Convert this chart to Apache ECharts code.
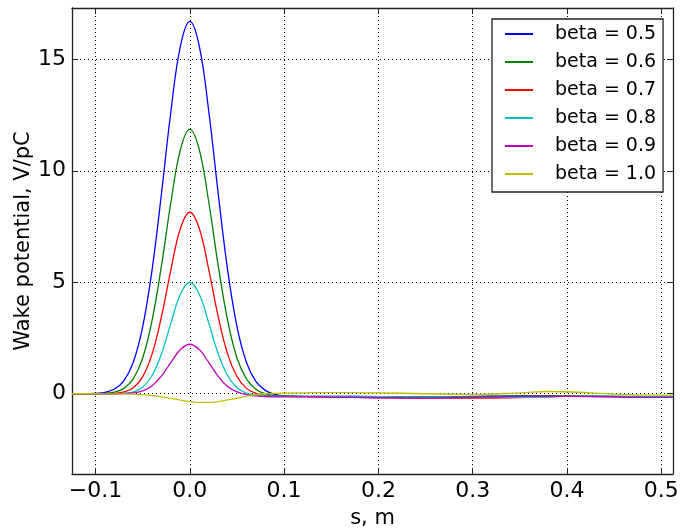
<!DOCTYPE html>
<html>
<head>
<meta charset="utf-8">
<script src="https://cdn.jsdelivr.net/npm/echarts@6/dist/echarts.min.js"></script>
<style>
  html, body { margin: 0; padding: 0; background: #fff; }
  #chart { width: 683px; height: 529px; }
</style>
</head>
<body>
<div id="chart"></div>
<script>
// s positions (m), shared by every curve
var sValues = [-0.125, -0.11, -0.1, -0.09, -0.08, -0.07, -0.06, -0.05, -0.04, -0.03, -0.02, -0.01, 0,
    0.01, 0.02, 0.03, 0.04, 0.05, 0.06, 0.07, 0.08, 0.09, 0.1, 0.12, 0.15, 0.2, 0.25, 0.3, 0.35, 0.38, 0.4, 0.45, 0.5, 0.5125];

// wake potential, V/pC
var beta05 = [0, 0, 0.02, 0.06, 0.21, 0.58, 1.41, 3.01, 5.57, 9.01, 12.69, 15.59, 16.7,
    15.59, 12.69, 9.01, 5.57, 3.01, 1.41, 0.55, 0.15, -0.03, -0.1, -0.12, -0.12, -0.13, -0.14, -0.12, -0.1, -0.1, -0.11, -0.13, -0.14, -0.14];
var beta06 = [0, 0, 0, 0.02, 0.07, 0.24, 0.67, 1.6, 3.3, 5.77, 8.61, 10.95, 11.86,
    10.95, 8.61, 5.77, 3.3, 1.6, 0.67, 0.2, 0, -0.08, -0.1, -0.12, -0.13, -0.14, -0.15, -0.13, -0.1, -0.09, -0.1, -0.12, -0.14, -0.14];
var beta07 = [0, 0, 0, 0, 0.02, 0.08, 0.27, 0.77, 1.79, 3.48, 5.58, 7.41, 8.14,
    7.41, 5.58, 3.48, 1.79, 0.77, 0.24, 0.02, -0.07, -0.1, -0.12, -0.13, -0.15, -0.18, -0.2, -0.2, -0.17, -0.14, -0.12, -0.13, -0.15, -0.15];
var beta08 = [0, 0, 0, 0, 0, 0.02, 0.08, 0.29, 0.82, 1.8, 3.18, 4.46, 5.0,
    4.46, 3.18, 1.8, 0.82, 0.27, 0.03, -0.06, -0.1, -0.11, -0.12, -0.12, -0.12, -0.13, -0.15, -0.16, -0.16, -0.14, -0.12, -0.11, -0.12, -0.12];
var beta09 = [0, 0, 0, 0, 0, 0.01, 0.04, 0.13, 0.36, 0.8, 1.41, 1.98, 2.22,
    1.98, 1.41, 0.78, 0.32, 0.08, -0.04, -0.1, -0.13, -0.14, -0.14, -0.14, -0.15, -0.18, -0.2, -0.16, -0.12, -0.11, -0.12, -0.14, -0.16, -0.16];
var beta10 = [0, 0, 0, -0.005, -0.01, -0.01, -0.02, -0.04, -0.08, -0.14, -0.21, -0.29, -0.35,
    -0.39, -0.39, -0.35, -0.28, -0.2, -0.12, -0.05, 0, 0.02, 0.03, 0.04, 0.05, 0.04, 0, -0.03, 0.04, 0.1, 0.09, -0.02, -0.06, -0.06];

var seriesNames = ['beta = 0.5', 'beta = 0.6', 'beta = 0.7', 'beta = 0.8', 'beta = 0.9', 'beta = 1.0'];
var seriesData = [beta05, beta06, beta07, beta08, beta09, beta10];
var colors = ['#0000ff', '#008000', '#ff0000', '#00bfbf', '#bf00bf', '#bfbf00'];

var font = 'DejaVu Sans';

function pairs(ys) {
    return sValues.map(function (s, i) { return [s, ys[i]]; });
}

function fmtX(v) {
    return (v < 0 ? '\u2212' : '') + Math.abs(v).toFixed(1);
}

var myChart = echarts.init(document.getElementById('chart'));

var frameLine = { show: true, onZero: false, lineStyle: { color: '#222', width: 1.3 } };
var tickIn = { show: true, inside: true, length: 6, lineStyle: { color: '#222', width: 1 } };

var option = {
    animation: false,
    backgroundColor: '#fff',
    color: colors,
    grid: { left: 72, right: 10, top: 8, bottom: 55, outerBoundsMode: 'none' },
    legend: {
        orient: 'vertical',
        left: 492,
        top: 19,
        width: 171,
        padding: [1, 7, 4, 13],
        itemGap: 0,
        itemWidth: 28,
        itemHeight: 2,
        icon: 'rect',
        borderColor: '#222',
        borderWidth: 1.3,
        backgroundColor: '#fff',
        textStyle: { fontFamily: font, fontSize: 19, color: '#000', lineHeight: 28, padding: [0, 0, 0, 17] },
        data: seriesNames
    },
    xAxis: [{
        type: 'value',
        min: -0.125,
        max: 0.5125,
        splitNumber: 6,
        name: 's, m',
        nameLocation: 'middle',
        nameGap: 34,
        nameTextStyle: { fontFamily: font, fontSize: 21, color: '#000' },
        axisLine: frameLine,
        axisTick: tickIn,
        axisLabel: { fontFamily: font, fontSize: 22, color: '#000', margin: 6, showMinLabel: false, showMaxLabel: false, formatter: fmtX },
        splitLine: { show: true, lineStyle: { color: '#000', width: 1, type: [1, 3] } }
    }, {
        type: 'value',
        position: 'top',
        min: -0.125,
        max: 0.5125,
        splitNumber: 6,
        axisLine: frameLine,
        axisTick: tickIn,
        axisLabel: { show: false },
        splitLine: { show: false }
    }],
    yAxis: [{
        type: 'value',
        min: -3.6,
        max: 17.3,
        splitNumber: 5,
        name: 'Wake potential, V/pC',
        nameLocation: 'middle',
        nameGap: 38,
        nameMoveOverlap: false,
        nameTextStyle: { fontFamily: font, fontSize: 21, color: '#000' },
        axisLine: frameLine,
        axisTick: tickIn,
        axisLabel: { fontFamily: font, fontSize: 22, color: '#000', margin: 6, showMinLabel: false, showMaxLabel: false },
        splitLine: { show: true, lineStyle: { color: '#000', width: 1, type: [1, 3] } }
    }, {
        type: 'value',
        position: 'right',
        min: -3.6,
        max: 17.3,
        splitNumber: 5,
        axisLine: frameLine,
        axisTick: tickIn,
        axisLabel: { show: false },
        splitLine: { show: false }
    }],
    series: seriesNames.map(function (name, i) {
        return {
            name: name,
            type: 'line',
            xAxisIndex: 0,
            yAxisIndex: 0,
            data: pairs(seriesData[i]),
            showSymbol: false,
            symbol: 'none',
            smooth: 0.4,
            lineStyle: { width: 1.3, color: colors[i] },
            itemStyle: { color: colors[i] }
        };
    })
};

myChart.setOption(option);
</script>
</body>
</html>
